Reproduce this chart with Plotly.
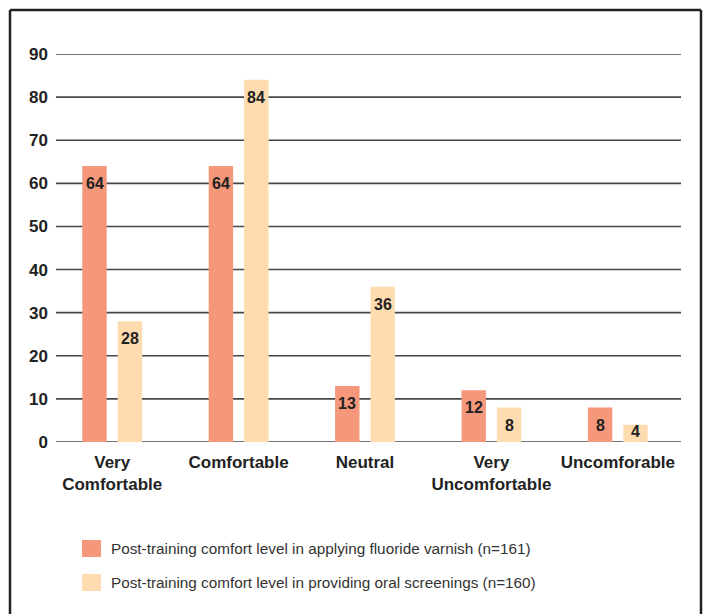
import plotly.graph_objects as go

# Comfort-level categories and counts for the two post-training questions
categories = ["Very<br>Comfortable", "Comfortable", "Neutral", "Very<br>Uncomfortable", "Uncomforable"]
fluoride_varnish = [64, 64, 13, 12, 8]
oral_screenings = [28, 84, 36, 8, 4]
series_names = [
    "Post-training comfort level in applying fluoride varnish (n=161)",
    "Post-training comfort level in providing oral screenings (n=160)",
]
y_ticks = [0, 10, 20, 30, 40, 50, 60, 70, 80, 90]

COLORS = ["#F5977A", "#FEDCB0"]
FONT = "Liberation Sans, Arial, Helvetica, sans-serif"
W, H = 704, 614
L, R, T, B = 49, 23, 54, 172
PW, PH = W - L - R, H - T - B
Y_MAX = 90
PX_PER_UNIT = PH / Y_MAX

fig = go.Figure()
for vals, color, name in zip([fluoride_varnish, oral_screenings], COLORS, series_names):
    fig.add_trace(go.Bar(
        x=categories, y=vals, name=name,
        marker=dict(color=color, line=dict(width=0)),
        showlegend=False,
    ))

# value labels sitting just inside the top of each bar;
# very short bars get their label resting on the baseline instead
offsets = [-17.7, 17.7]
for vals, dx in zip([fluoride_varnish, oral_screenings], offsets):
    for cat, v in zip(categories, vals):
        short = v * PX_PER_UNIT < 26
        fig.add_annotation(
            x=cat, y=0 if short else v, xref="x", yref="y", text=str(v),
            showarrow=False, xshift=dx,
            yanchor="bottom" if short else "top",
            yshift=0 if short else -7,
            font=dict(family=FONT, size=16, color="#222222", weight="bold"),
        )

# horizontal gridlines, starting a little right of the axis edge
for v in y_ticks:
    fig.add_shape(
        type="line", xref="x domain", yref="y", x0=0.011, x1=1, y0=v, y1=v,
        line=dict(color="#474747", width=1.6), layer="below",
    )

# outer frame (left, top, right sides)
fx0 = (10 - L) / PW
fx1 = (701 - L) / PW
fy_top = (T + PH - 10) / PH
fy_bot = (T + PH - H - 20) / PH
for x0, y0, x1, y1 in [(fx0, fy_bot, fx0, fy_top), (fx0, fy_top, fx1, fy_top), (fx1, fy_top, fx1, fy_bot)]:
    fig.add_shape(type="line", xref="paper", yref="paper", x0=x0, y0=y0, x1=x1, y1=y1,
                  line=dict(color="#222222", width=2.5))

# legend drawn as swatches with labels
legend_rows = [548.5, 582.5]
for color, name, yc in zip(COLORS, series_names, legend_rows):
    yp = (T + PH - yc) / PH
    fig.add_shape(
        type="rect", xref="paper", yref="paper",
        x0=(82 - L) / PW, x1=(101 - L) / PW,
        y0=yp - 8.5 / PH, y1=yp + 8.5 / PH,
        fillcolor=color, line=dict(width=0),
    )
    fig.add_annotation(
        xref="paper", yref="paper", x=(109 - L) / PW, y=yp, text=name,
        showarrow=False, xanchor="left", yanchor="middle",
        font=dict(family=FONT, size=15.3, color="#333333"),
    )

fig.update_layout(
    width=W, height=H,
    margin=dict(l=L, r=R, t=T, b=B, pad=0),
    paper_bgcolor="white", plot_bgcolor="white",
    barmode="group", bargap=0.44, bargroupgap=0.31,
    xaxis=dict(
        showgrid=False, showline=False, zeroline=False, ticks="",
        tickangle=0, automargin=False, ticklabelstandoff=8,
        tickfont=dict(family=FONT, size=17, color="#222222", weight="bold"),
        fixedrange=True,
    ),
    yaxis=dict(
        range=[0, Y_MAX], tickvals=y_ticks, showgrid=False, zeroline=False,
        showline=False, ticks="", ticklabelstandoff=0, automargin=False,
        tickfont=dict(family=FONT, size=17, color="#222222", weight="bold"),
    ),
)

fig.write_html("out.html")
